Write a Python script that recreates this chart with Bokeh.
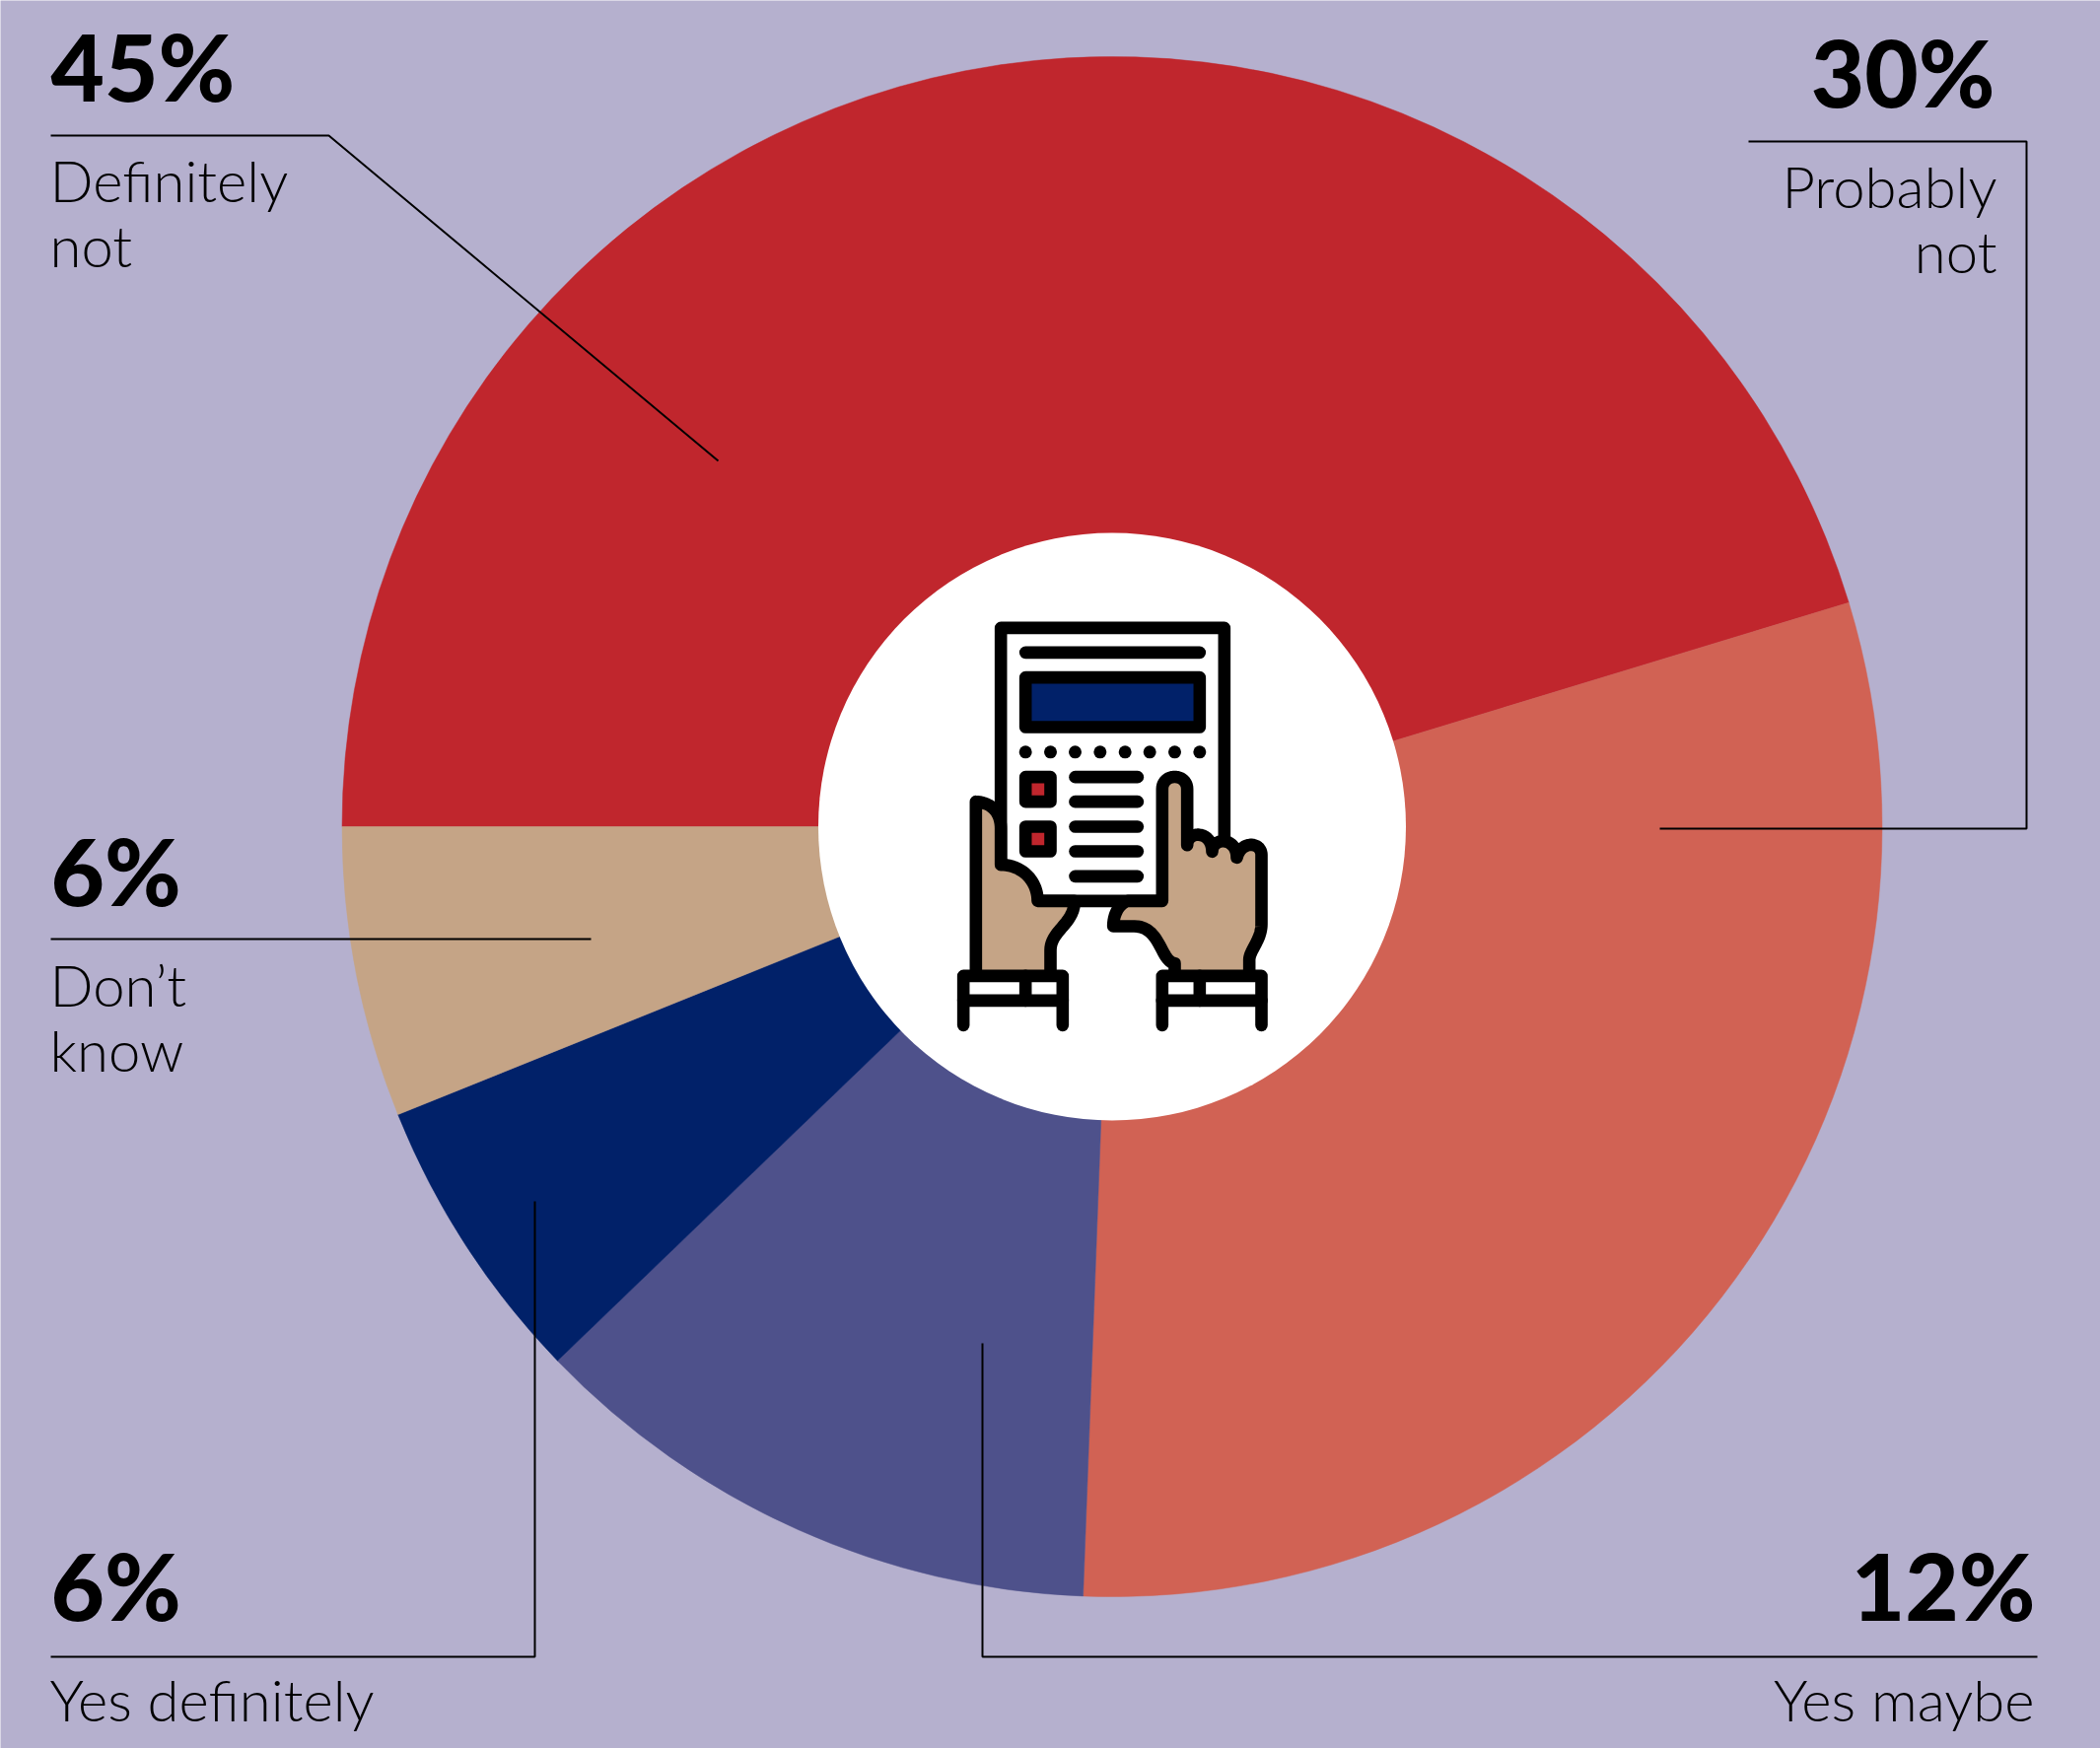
import numpy as np
from bokeh.plotting import figure
from bokeh.models import Range1d
from bokeh.core.properties import value
from bokeh.embed import file_html
from bokeh.resources import INLINE

categories = ["Definitely not", "Probably not", "Yes maybe", "Yes definitely", "Don't know"]
values = [45.3, 30.3, 12.2, 6.1, 6.1]
colors = ["#C0262D", "#D16254", "#4E518B", "#012169", "#C5A486"]
BG, TAN, NAVY, RED = "#B5B0CE", "#C5A486", "#012169", "#C0262D"
W, H = 2130, 1773
CX, CY, R_OUT, R_IN = 1127.5, 838, 781, 298

def Y(v):
    return H - np.asarray(v, dtype=float)

p = figure(width=W, height=H, output_backend="svg", toolbar_location=None,
           x_range=Range1d(0, W), y_range=Range1d(0, H), min_border=0,
           background_fill_color=BG, border_fill_color=BG, outline_line_color=None)
p.axis.visible = False
p.grid.visible = False

# Pie, clockwise from 9 o'clock
vals = np.array(values, dtype=float)
cum = np.concatenate([[0], np.cumsum(vals)]) / vals.sum() * 2 * np.pi
for i, c in enumerate(colors):
    p.wedge(x=CX, y=Y(CY), radius=R_OUT, start_angle=np.pi - cum[i], end_angle=np.pi - cum[i + 1],
            direction="clock", fill_color=c, line_color=c, line_width=0.5)
p.circle(x=CX, y=Y(CY), radius=R_IN, fill_color="white", line_color=None)

# Leaders
leaders = [
    ([51, 333, 728], [137, 137, 467]),
    ([1773, 2055, 2055, 1683], [143, 143, 840, 840]),
    ([51, 599], [952, 952]),
    ([51, 542, 542], [1680, 1680, 1218]),
    ([2066, 996, 996], [1680, 1680, 1362]),
]
for lx, ly in leaders:
    p.line(lx, Y(ly), line_color="black", line_width=2)

# Texts
PCT_SIZE, LAB_SIZE = 94, 58
BASE_SHIFT = 0.39
pct_text = ["45%", "30%", "6%", "6%", "12%"]
pct_x = [51, 2023, 51, 51, 2064]
pct_y = [103, 109, 919, 1644, 1644]
pct_align = ["left", "right", "left", "left", "right"]
lab_text = ["Definitely", "not", "Probably", "not", "Don\u2019t", "know", "Yes definitely", "Yes maybe"]
lab_x = [50, 50, 2025, 2025, 50, 50, 50, 2063]
lab_y = [205, 271, 211, 277, 1021, 1087, 1746, 1746]
lab_align = ["left", "left", "right", "right", "left", "left", "left", "right"]
for t, x, y, a in zip(pct_text, pct_x, pct_y, pct_align):
    p.text(x=[x], y=[Y(y)], text=[t], text_font=value("Lato Black"), text_font_size=f"{PCT_SIZE}px",
           text_align=a, text_baseline="alphabetic", text_color="black", y_offset=-BASE_SHIFT * PCT_SIZE)
for t, x, y, a in zip(lab_text, lab_x, lab_y, lab_align):
    p.text(x=[x], y=[Y(y)], text=[t], text_font=value("Lato Light"), text_font_size=f"{LAB_SIZE}px",
           text_align=a, text_baseline="alphabetic", text_color="black", y_offset=-BASE_SHIFT * LAB_SIZE)

# Icon (drawn in a 3x local grid whose origin is at page 930,600)
def ix(v): return 930 + np.asarray(v, dtype=float) / 3
def iy(v): return Y(600 + np.asarray(v, dtype=float) / 3)

def path(*segs):
    pts = []
    for s in segs:
        s = np.array(s, dtype=float)
        if len(s) == 4:
            t = np.linspace(0, 1, 24)[:, None]
            pts.extend((1-t)**3*s[0] + 3*(1-t)**2*t*s[1] + 3*(1-t)*t**2*s[2] + t**3*s[3])
        else:
            pts.extend(s)
    pts = np.array(pts)
    return pts[:, 0], pts[:, 1]

LW = 12.6
st = dict(line_color="black", line_width=LW, line_join="round", line_cap="round")

def shape(x, y, fill):
    p.patch(ix(x), iy(y), fill_color=fill, line_color=None)
    p.line(ix(list(x) + [x[0]]), iy(list(y) + [y[0]]), **st)

def rect(x0, y0, x1, y1, fill):
    shape([x0, x1, x1, x0], [y0, y0, y1, y1], fill)

# paper
rect(254, 109, 934, 940, "white")
# left hand
lx, ly = path([(178, 1170), (178, 638)],
              [(178, 638), (220, 640), (254, 665), (254, 720)],
              [(254, 720), (254, 830)],
              [(254, 830), (320, 830), (366, 880), (366, 940)],
              [(366, 940), (478, 940)],
              [(478, 940), (478, 1010), (405, 1030), (405, 1090)],
              [(405, 1090), (405, 1170)])
p.patch(ix(lx), iy(ly), fill_color=TAN, line_color=None)
p.line(ix(lx), iy(ly), **st)
# right hand
rx, ry = path([(745, 940), (640, 940)],
              [(640, 940), (610, 950), (596, 985), (596, 1017)],
              [(596, 1017), (660, 1017)],
              [(660, 1017), (740, 1017), (740, 1125), (783, 1130)],
              [(783, 1130), (783, 1170)],
              [(783, 1170), (1010, 1170)],
              [(1010, 1170), (1010, 1120)],
              [(1010, 1120), (1010, 1090), (1047, 1060), (1047, 1010)],
              [(1047, 1010), (1047, 800)],
              [(1047, 800), (1047, 760), (985, 755), (972, 808)],
              [(972, 808), (972, 745), (897, 745), (897, 790)],
              [(897, 790), (897, 725), (821, 725), (821, 770)],
              [(821, 770), (821, 600)],
              [(821, 600), (821, 550), (745, 550), (745, 600)],
              [(745, 600), (745, 940)])
shape(rx, ry, TAN)
# cuffs
for x0, x1, xd in [(140, 442, 329), (745, 1047, 859)]:
    rect(x0, 1168, x1, 1243, "white")
    p.multi_line([list(ix([xd, xd])), list(ix([x0, x0])), list(ix([x1, x1]))],
                 [list(iy([1168, 1243])), list(iy([1243, 1318])), list(iy([1243, 1318]))], **st)
# paper contents
rect(329, 260, 859, 411, NAVY)
rect(329, 563, 405, 638, RED)
rect(329, 714, 405, 789, RED)
xs_l = [[329, 859]] + [[480, 670]] * 5
ys_l = [[184, 184], [563, 563], [638, 638], [714, 714], [789, 789], [865, 865]]
p.multi_line([list(ix(a)) for a in xs_l], [list(iy(b)) for b in ys_l], **st)
dx = [329, 405, 480, 556, 632, 707, 783, 859]
p.scatter(ix(dx), iy([487] * 8), size=13, marker="circle", fill_color="black", line_color=None)

open("out.html", "w").write(file_html(p, INLINE))
